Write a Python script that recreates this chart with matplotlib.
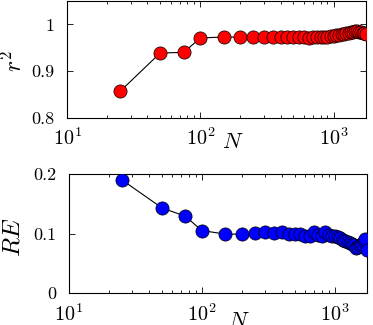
import numpy as np
import matplotlib
matplotlib.use('Agg')
from matplotlib import pyplot as plt
from matplotlib.ticker import LogLocator, NullFormatter

plt.rcParams['font.family'] = 'serif'
plt.rcParams['font.serif'] = ['cmr10']
plt.rcParams['mathtext.fontset'] = 'cm'
plt.rcParams['axes.formatter.use_mathtext'] = True

# system sizes
N = [25, 50, 75, 100, 150, 200, 250, 300, 350, 400, 450, 500, 550, 600, 650,
     700, 750, 800, 850, 900, 950, 1000, 1050, 1100, 1150, 1200, 1250, 1300,
     1350, 1400, 1450, 1500, 1550, 1600, 1650, 1700, 1750]

# r^2 values
r2 = [0.857, 0.939, 0.940, 0.971, 0.973, 0.973, 0.973, 0.972, 0.972, 0.973,
      0.972, 0.972, 0.972, 0.972, 0.971, 0.972, 0.972, 0.973, 0.972, 0.974,
      0.975, 0.976, 0.977, 0.978, 0.979, 0.980, 0.981, 0.982, 0.983, 0.984,
      0.985, 0.985, 0.984, 0.983, 0.982, 0.981, 0.980]

# relative error
re = [0.190, 0.143, 0.129, 0.105, 0.099, 0.099, 0.101, 0.102, 0.101, 0.103,
      0.099, 0.100, 0.099, 0.096, 0.095, 0.102, 0.097, 0.095, 0.102, 0.097,
      0.095, 0.096, 0.094, 0.092, 0.089, 0.088, 0.086, 0.084, 0.083, 0.080,
      0.076, 0.077, 0.080, 0.083, 0.087, 0.091, 0.072]

fig = plt.figure(figsize=(3.73, 3.25), dpi=100)
ax1 = fig.add_axes([0.18, 0.637, 0.801, 0.36])
ax2 = fig.add_axes([0.185, 0.098, 0.799, 0.367])

for ax, y, col in [(ax1, r2, 'red'), (ax2, re, 'blue')]:
    ax.plot(N, y, '-', color='black', lw=0.8, zorder=2)
    ax.plot(N, y, 'o', ms=9.5, mfc=col, mec='black', mew=0.5, zorder=3)
    ax.set_xscale('log')
    ax.set_xlim(10, 1750)
    ax.xaxis.set_major_locator(LogLocator(base=10, numticks=10))
    ax.xaxis.set_minor_locator(LogLocator(base=10, subs=np.arange(2, 10), numticks=10))
    ax.xaxis.set_minor_formatter(NullFormatter())
    ax.tick_params(which='both', direction='in', top=True, right=True, width=0.6)
    ax.tick_params(axis='x', which='major', labelsize=14.5, pad=7)
    ax.tick_params(axis='y', which='major', labelsize=13, pad=9)
    ax.tick_params(which='major', length=4.5)
    ax.tick_params(which='minor', length=2.5)
    for s in ax.spines.values():
        s.set_linewidth(0.8)
    ax.set_xlabel('$N$', fontsize=16)

ax1.set_ylim(0.8, 1.05)
ax1.set_yticks([0.8, 0.9, 1.0])
ax1.set_yticklabels(['0.8', '0.9', '1'])
ax1.set_ylabel('$r^2$', fontsize=17)
ax1.yaxis.set_label_coords(-0.135, 0.49)
ax1.xaxis.set_label_coords(0.555, -0.127)

ax2.set_ylim(0, 0.2)
ax2.set_yticks([0, 0.1, 0.2])
ax2.set_yticklabels(['0', '0.1', '0.2'])
ax2.set_ylabel('$RE$', fontsize=18)
ax2.yaxis.set_label_coords(-0.148, 0.47)
ax2.xaxis.set_label_coords(0.57, -0.15)

fig.savefig('out.png', dpi=100)
